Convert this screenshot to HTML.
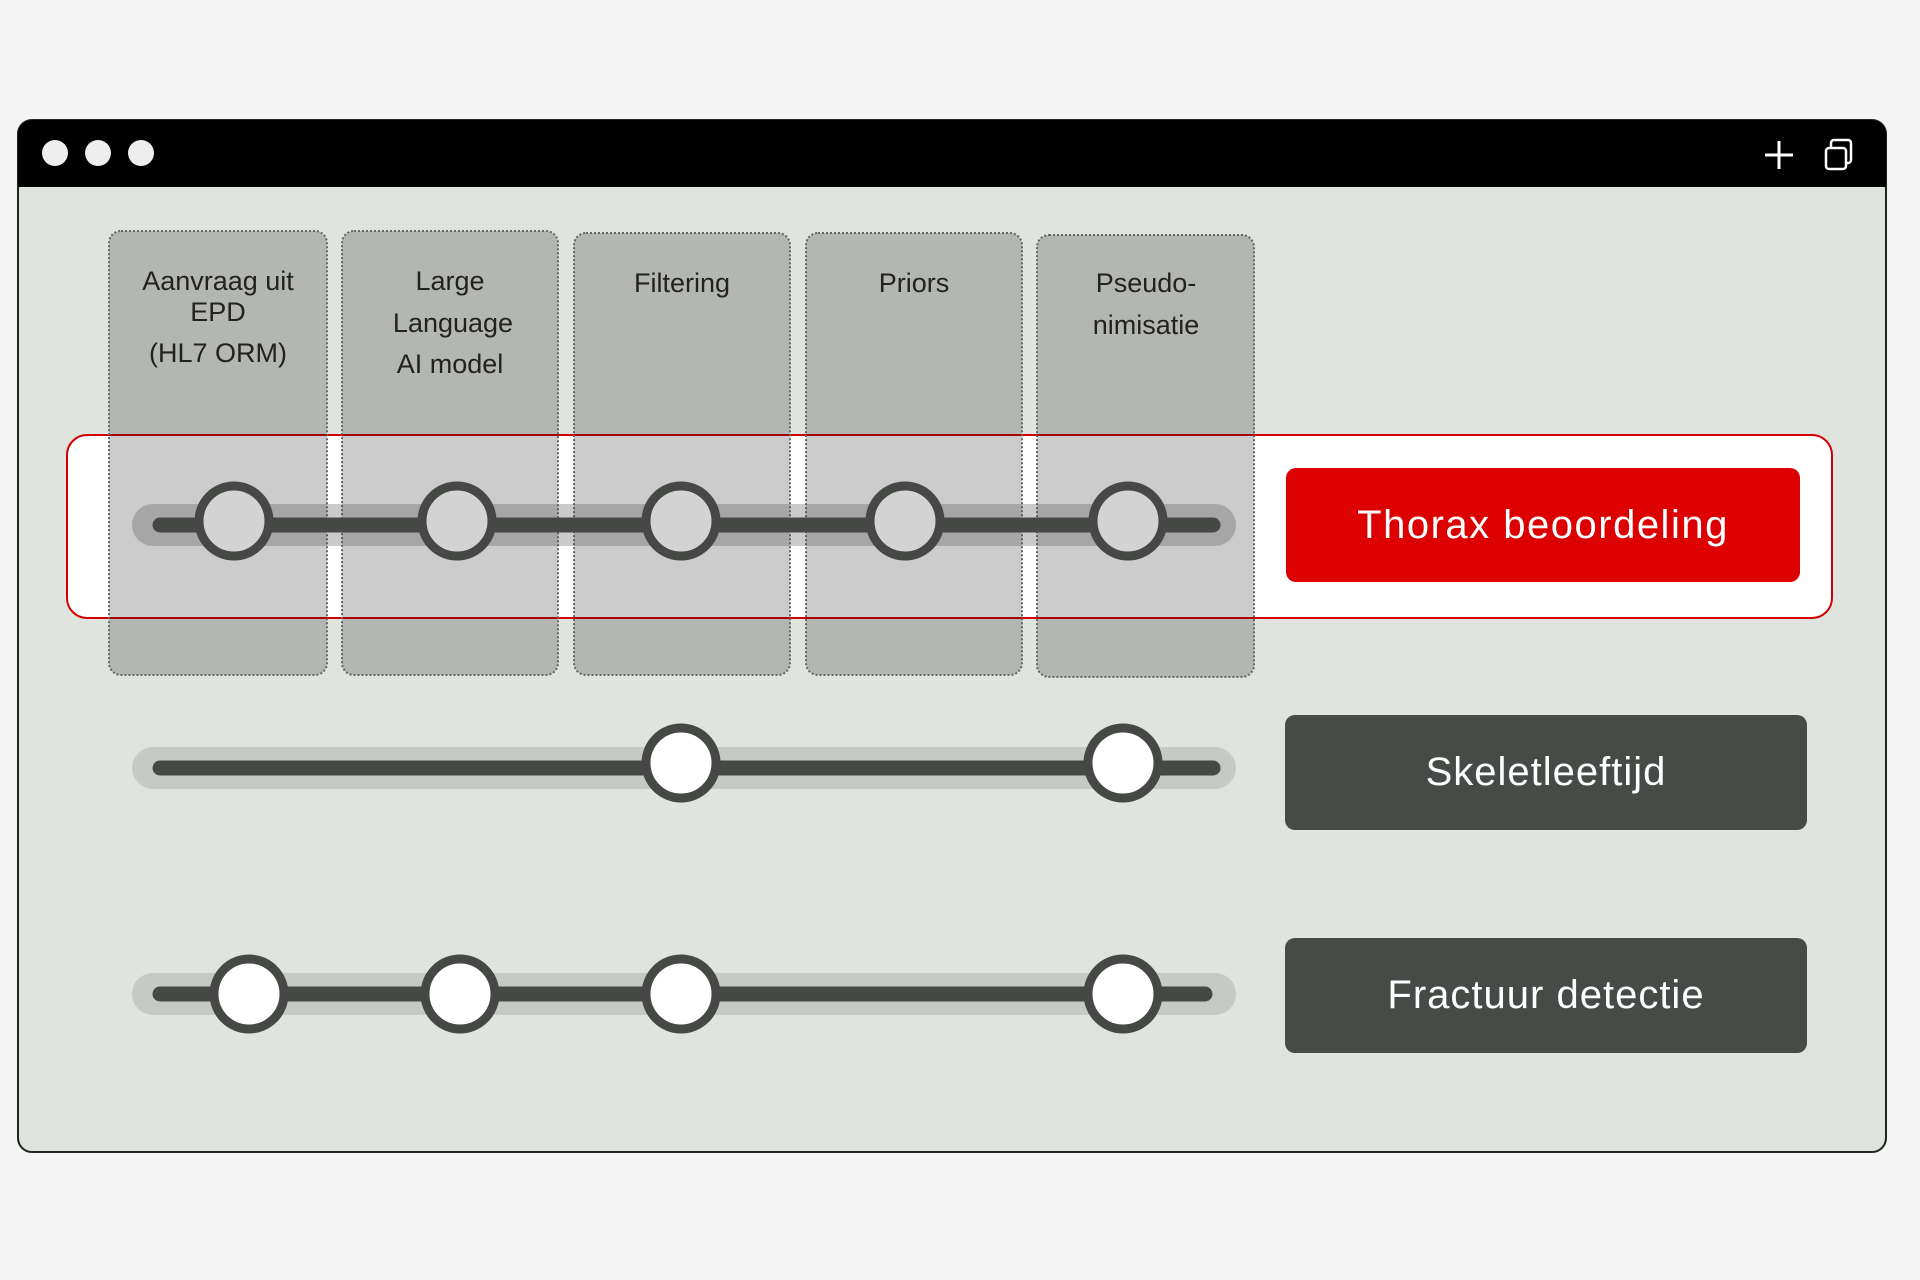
<!DOCTYPE html>
<html><head><meta charset="utf-8"><style>
html,body{margin:0;padding:0;background:#f4f4f4;width:1920px;height:1280px;overflow:hidden}
svg{display:block}
text{font-family:"Liberation Sans",sans-serif}
</style></head><body>
<svg width="1920" height="1280" viewBox="0 0 1920 1280" xmlns="http://www.w3.org/2000/svg">
<rect x="0" y="0" width="1920" height="1280" fill="#f4f4f4"/>
<!-- window -->
<rect x="18" y="120" width="1868" height="1032" rx="14" fill="#e0e4de" stroke="#222" stroke-width="2"/>
<path d="M18 187 V134 a14 14 0 0 1 14 -14 H1872 a14 14 0 0 1 14 14 V187 Z" fill="#000"/>
<circle cx="55" cy="153" r="13" fill="#eee"/>
<circle cx="98" cy="153" r="13" fill="#eee"/>
<circle cx="141" cy="153" r="13" fill="#eee"/>
<path d="M1779 141 V169 M1765 155 H1793" stroke="#fff" stroke-width="3"/>
<rect x="1826" y="148" width="20" height="21" rx="3" fill="none" stroke="#fff" stroke-width="2.5"/>
<path d="M1831 148 V143 a3 3 0 0 1 3 -3 H1848 a3 3 0 0 1 3 3 V160 a3 3 0 0 1 -3 3 H1846" fill="none" stroke="#fff" stroke-width="2.5"/>
<!-- red highlight box -->
<rect x="67" y="435" width="1765" height="183" rx="20" fill="#fff" stroke="#d40000" stroke-width="2"/>
<!-- columns -->
<g fill="rgba(0,0,0,0.2)" stroke="#666" stroke-width="2" stroke-dasharray="2 2">
<rect x="109" y="231" width="218" height="444" rx="12"/>
<rect x="342" y="231" width="216" height="444" rx="12"/>
<rect x="574" y="233" width="216" height="442" rx="12"/>
<rect x="806" y="233" width="216" height="442" rx="12"/>
<rect x="1037" y="235" width="217" height="442" rx="12"/>
</g>
<g font-size="27" fill="#222" text-anchor="middle">
<text x="218" y="290">Aanvraag uit</text>
<text x="218" y="321">EPD</text>
<text x="218" y="362">(HL7 ORM)</text>
<text x="450" y="290">Large</text>
<text x="453" y="332">Language</text>
<text x="450" y="373">AI model</text>
<text x="682" y="292">Filtering</text>
<text x="914" y="292">Priors</text>
<text x="1146" y="292">Pseudo-</text>
<text x="1146" y="334">nimisatie</text>
</g>
<!-- tracks -->
<g stroke-linecap="round">
<line x1="153" y1="525" x2="1215" y2="525" stroke="rgba(80,80,80,0.3)" stroke-width="42"/>
<line x1="160" y1="525" x2="1213" y2="525" stroke="#454845" stroke-width="15"/>
<line x1="153" y1="768" x2="1215" y2="768" stroke="#c6c9c4" stroke-width="42"/>
<line x1="160" y1="768" x2="1213" y2="768" stroke="#454845" stroke-width="15"/>
<line x1="153" y1="994" x2="1215" y2="994" stroke="#c6c9c4" stroke-width="42"/>
<line x1="160" y1="994" x2="1205" y2="994" stroke="#454845" stroke-width="15"/>
</g>
<g stroke="#454845" stroke-width="9">
<g fill="#d3d3d3">
<circle cx="234" cy="521" r="35"/><circle cx="457" cy="521" r="35"/><circle cx="681" cy="521" r="35"/><circle cx="905" cy="521" r="35"/><circle cx="1128" cy="521" r="35"/>
</g>
<g fill="#fff">
<circle cx="681" cy="763" r="35"/><circle cx="1123" cy="763" r="35"/>
<circle cx="249" cy="994" r="35"/><circle cx="460" cy="994" r="35"/><circle cx="681" cy="994" r="35"/><circle cx="1123" cy="994" r="35"/>
</g>
</g>
<!-- buttons -->
<rect x="1286" y="468" width="514" height="114" rx="10" fill="#dc0000"/>
<text x="1543" y="538" font-size="40" letter-spacing="1.5" fill="#fff" text-anchor="middle">Thorax  beoordeling</text>
<rect x="1285" y="715" width="522" height="115" rx="10" fill="#474b47"/>
<text x="1546" y="785" font-size="40" letter-spacing="1" fill="#fff" text-anchor="middle">Skeletleeftijd</text>
<rect x="1285" y="938" width="522" height="115" rx="10" fill="#474b47"/>
<text x="1546" y="1008" font-size="40" letter-spacing="1" fill="#fff" text-anchor="middle">Fractuur detectie</text>
</svg>
</body></html>
